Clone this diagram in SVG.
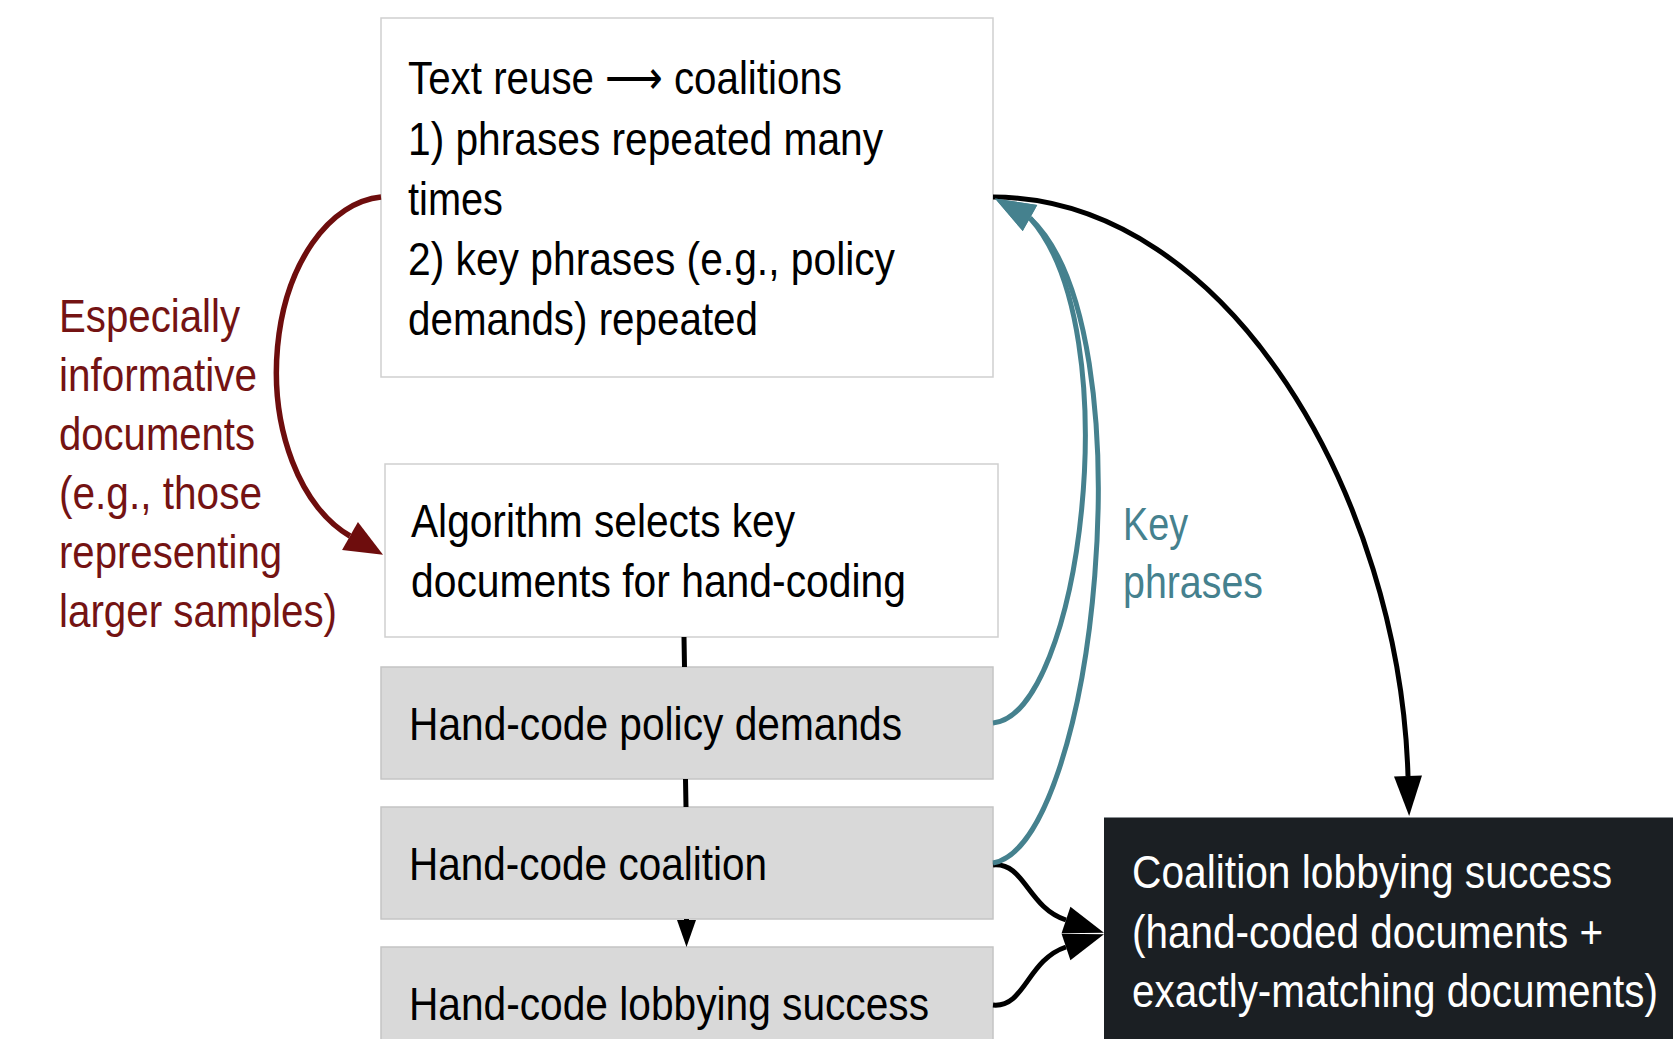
<svg xmlns="http://www.w3.org/2000/svg" width="1673" height="1039" viewBox="0 0 1673 1039">
<style>
text{font-family:"Liberation Sans",Arial,sans-serif;font-size:47px}
.w{fill:#ffffff;stroke:#cfcfcf;stroke-width:1.5}
.g{fill:#d9d9d9;stroke:#c4c4c4;stroke-width:1.5}
.d{fill:#1b1f23;stroke:none}
.tk{fill:#000000}
.tw{fill:#ffffff}
.tr{fill:#741313}
.tt{fill:#45818e}
.c{fill:none}
.cb{stroke:#000000;stroke-width:5}
.cr{stroke:#6e0d0d;stroke-width:5.5}
.ct{stroke:#45818e;stroke-width:5}
</style>
<defs>
<marker id="mb" markerUnits="userSpaceOnUse" viewBox="0 0 40 28" markerWidth="40" markerHeight="28" refX="0" refY="14" orient="auto" overflow="visible"><path d="M0,0 L40,14 L0,28 z" fill="#000000"/></marker>
<marker id="ms" markerUnits="userSpaceOnUse" viewBox="0 0 27 19" markerWidth="27" markerHeight="19" refX="0" refY="9.5" orient="auto" overflow="visible"><path d="M0,0 L27,9.5 L0,19 z" fill="#000000"/></marker>
<marker id="mr" markerUnits="userSpaceOnUse" viewBox="0 0 38 32" markerWidth="38" markerHeight="32" refX="0" refY="16" orient="auto" overflow="visible"><path d="M0,0 L38,16 L0,32 z" fill="#6e0d0d"/></marker>
<marker id="mt" markerUnits="userSpaceOnUse" viewBox="0 0 40 30" markerWidth="40" markerHeight="30" refX="0" refY="15" orient="209" overflow="visible"><path d="M0,0 L40,15 L0,30 z" fill="#45818e"/></marker>
</defs>

<g id="node-text-reuse">
<rect class="w" x="381" y="18" width="612" height="359"/>
<text class="tk" x="408" y="94" textLength="434" lengthAdjust="spacingAndGlyphs">Text reuse ⟶ coalitions</text>
<text class="tk" x="408" y="155" textLength="475" lengthAdjust="spacingAndGlyphs">1) phrases repeated many</text>
<text class="tk" x="408" y="215" textLength="95" lengthAdjust="spacingAndGlyphs">times</text>
<text class="tk" x="408" y="275" textLength="487" lengthAdjust="spacingAndGlyphs">2) key phrases (e.g., policy</text>
<text class="tk" x="408" y="335" textLength="350" lengthAdjust="spacingAndGlyphs">demands) repeated</text>
</g>

<g id="node-algorithm">
<rect class="w" x="385" y="464" width="613" height="173"/>
<text class="tk" x="411" y="537" textLength="384" lengthAdjust="spacingAndGlyphs">Algorithm selects key</text>
<text class="tk" x="411" y="597" textLength="495" lengthAdjust="spacingAndGlyphs">documents for hand-coding</text>
</g>

<g id="node-policy">
<rect class="g" x="381" y="667" width="612" height="112"/>
<text class="tk" x="409" y="740" textLength="493" lengthAdjust="spacingAndGlyphs">Hand-code policy demands</text>
</g>

<g id="node-coalition">
<rect class="g" x="381" y="807" width="612" height="112"/>
<text class="tk" x="409" y="880" textLength="358" lengthAdjust="spacingAndGlyphs">Hand-code coalition</text>
</g>

<g id="node-lobbying">
<rect class="g" x="381" y="947" width="612" height="110"/>
<text class="tk" x="409" y="1020" textLength="520" lengthAdjust="spacingAndGlyphs">Hand-code lobbying success</text>
</g>

<g id="node-success">
<rect class="d" x="1104" y="817" width="569" height="222"/>
<line x1="1104" y1="817.5" x2="1673" y2="817.5" stroke="#8a8f93" stroke-width="1"/>
<text class="tw" x="1132" y="888" textLength="480" lengthAdjust="spacingAndGlyphs">Coalition lobbying success</text>
<text class="tw" x="1132" y="948" textLength="471" lengthAdjust="spacingAndGlyphs">(hand-coded documents +</text>
<text class="tw" x="1132" y="1007" textLength="526" lengthAdjust="spacingAndGlyphs">exactly-matching documents)</text>
</g>

<g id="label-informative">
<text class="tr" x="59" y="332" textLength="181" lengthAdjust="spacingAndGlyphs">Especially</text>
<text class="tr" x="59" y="391" textLength="198" lengthAdjust="spacingAndGlyphs">informative</text>
<text class="tr" x="59" y="450" textLength="196" lengthAdjust="spacingAndGlyphs">documents</text>
<text class="tr" x="59" y="509" textLength="203" lengthAdjust="spacingAndGlyphs">(e.g., those</text>
<text class="tr" x="59" y="568" textLength="223" lengthAdjust="spacingAndGlyphs">representing</text>
<text class="tr" x="59" y="627" textLength="278" lengthAdjust="spacingAndGlyphs">larger samples)</text>
</g>

<g id="label-key-phrases">
<text class="tt" x="1123" y="540" textLength="65" lengthAdjust="spacingAndGlyphs">Key</text>
<text class="tt" x="1123" y="598" textLength="140" lengthAdjust="spacingAndGlyphs">phrases</text>
</g>

<g id="connectors">
<path class="c cb" d="M684 637 L684.5 667 M685.5 779 L686 807 M686.5 919 L686.5 920" marker-end="url(#ms)"/>
<path class="c cr" d="M381 197 A112 175 0 0 0 350 536" marker-end="url(#mr)"/>
<path class="c cb" d="M993 197 C1230 198 1400 500 1408 776" marker-end="url(#mb)"/>
<path class="c cb" d="M993 865 C1025 862 1027 907 1066 920" marker-end="url(#mb)"/>
<path class="c cb" d="M993 1005 C1025 1008 1027 960 1066 947" marker-end="url(#mb)"/>
<path class="c ct" d="M993 723 C1080 715 1130 330 1030 218" marker-end="url(#mt)"/>
<path class="c ct" d="M993 863 C1095 845 1150 330 1030 218" marker-end="url(#mt)"/>
</g>
</svg>
